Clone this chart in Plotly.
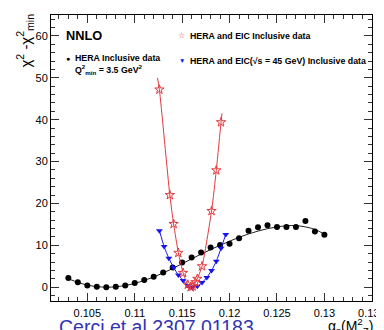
import plotly.graph_objects as go

# ---- data ----
hera_x = [0.103, 0.104, 0.105, 0.106, 0.107, 0.108, 0.109, 0.110, 0.111, 0.112,
          0.113, 0.114, 0.115, 0.116, 0.117, 0.118, 0.119, 0.120, 0.121, 0.122,
          0.123, 0.124, 0.125, 0.126, 0.127, 0.128, 0.129, 0.130]
hera_y = [2.2, 1.2, 0.4, 0.1, 0.0, 0.1, 0.4, 1.0, 1.7, 2.5,
          3.5, 4.7, 5.9, 7.1, 8.3, 9.5, 10.1, 10.4, 11.7, 13.5,
          14.3, 14.8, 14.4, 14.4, 14.4, 15.8, 13.3, 12.5]
hera_fit_x = [0.103, 0.105, 0.107, 0.109, 0.111, 0.113, 0.115, 0.117, 0.119,
              0.121, 0.123, 0.125, 0.127, 0.129, 0.130]
hera_fit_y = [2.0, 0.5, 0.0, 0.4, 1.6, 3.4, 5.6, 7.9, 10.0,
              11.9, 13.4, 14.4, 14.7, 13.8, 12.6]

eic_x = [0.1126, 0.1137, 0.1141, 0.1146, 0.1151, 0.1156, 0.1159, 0.1161,
         0.1164, 0.1166, 0.1171, 0.1181, 0.1186, 0.1191]
eic_y = [47.2, 22.0, 15.1, 8.2, 3.4, 0.6, 0.0, 0.2,
         1.2, 2.0, 5.0, 18.2, 27.9, 39.4]
eic_fit_x = [0.1124, 0.1126, 0.1137, 0.1141, 0.1146, 0.1151, 0.1156, 0.1160,
             0.1164, 0.1166, 0.1171, 0.1181, 0.1186, 0.1191, 0.1192]
eic_fit_y = [50.0, 47.2, 22.0, 15.1, 8.2, 3.4, 0.6, 0.0,
             1.2, 2.0, 5.0, 18.2, 27.9, 39.4, 41.5]

eic45_x = [0.1126, 0.1131, 0.1136, 0.1141, 0.1146, 0.1151, 0.1156, 0.1159,
           0.1161, 0.1166, 0.1171, 0.1176, 0.1181, 0.1186, 0.1191, 0.1196]
eic45_y = [13.5, 9.7, 6.9, 4.7, 2.9, 1.6, 0.4, 0.0,
           0.0, 0.2, 1.1, 2.3, 4.0, 6.2, 9.3, 12.6]

x_tickvals = [0.105, 0.11, 0.115, 0.12, 0.125, 0.13, 0.135]
x_ticktext = ["0.105", "0.11", "0.115", "0.12", "0.125", "0.13", "0.135"]
y_tickvals = [0, 10, 20, 30, 40, 50, 60]

RED = "#e23a3f"
BLUE = "#1414f0"
FONT = "Liberation Sans, Arial, sans-serif"

fig = go.Figure()
fig.add_trace(go.Scatter(x=hera_fit_x, y=hera_fit_y, mode="lines",
                         line=dict(color="#222222", width=1, shape="spline", smoothing=1.0),
                         hoverinfo="skip"))
fig.add_trace(go.Scatter(x=hera_x, y=hera_y, mode="markers",
                         marker=dict(symbol="circle", size=6, color="black"),
                         name="HERA Inclusive data"))
fig.add_trace(go.Scatter(x=eic45_x, y=eic45_y, mode="lines+markers",
                         line=dict(color=BLUE, width=1, shape="spline", smoothing=0.6),
                         marker=dict(symbol="triangle-down", size=6, color=BLUE),
                         name="HERA and EIC(√s = 45 GeV) Inclusive data"))
fig.add_trace(go.Scatter(x=eic_fit_x, y=eic_fit_y, mode="lines",
                         line=dict(color=RED, width=1, shape="spline", smoothing=0.6),
                         hoverinfo="skip"))
fig.add_trace(go.Scatter(x=eic_x, y=eic_y, mode="markers",
                         marker=dict(symbol="star-open", size=7, color=RED,
                                     line=dict(width=1, color=RED)),
                         name="HERA and EIC Inclusive data"))

axis_common = dict(showline=True, linecolor="black", linewidth=1, mirror="allticks",
                   ticks="inside", ticklen=8, tickwidth=1, tickcolor="#333333",
                   showgrid=False, zeroline=False,
                   tickfont=dict(family=FONT, size=11, color="black"),
                   minor=dict(ticks="inside", ticklen=4, tickwidth=1, tickcolor="#333333",
                              showgrid=False))

fig.update_xaxes(range=[0.10117, 0.13502], tickvals=x_tickvals, ticktext=x_ticktext,
                 minor_dtick=0.001, ticklabelstandoff=2, **axis_common)
fig.update_yaxes(range=[-3.3, 65], tickvals=y_tickvals,
                 minor_dtick=2, **axis_common)

ann = []
# pixel helpers: plot area l=43, r=370, t=6, b=293
def px(xp):
    return (xp - 43) / (370 - 43)
def py(yp):
    return (293 - yp) / (293 - 6)

def txt(x, y, s, size=8.8, bold=True, color="black", xanchor="left"):
    ann.append(dict(x=px(x), y=py(y), xref="paper", yref="paper", xanchor=xanchor,
                    yanchor="middle", text=("<b>%s</b>" % s) if bold else s,
                    showarrow=False, font=dict(size=size, color=color, family=FONT)))

txt(56, 27, "NNLO", size=12.8)
txt(60, 50, "●", size=7, bold=False, xanchor="center")
txt(65, 49, "HERA Inclusive data")
txt(65, 61, "Q<sup>2</sup><sub>min</sub> = 3.5 GeV<sup>2</sup>")
txt(175.5, 27, "☆", size=8, bold=False, color=RED, xanchor="center")
txt(183, 27, "HERA and EIC Inclusive data")
txt(176, 52, "▼", size=6.5, bold=False, color=BLUE, xanchor="center")
txt(183, 52, "HERA and EIC(√s = 45 GeV) Inclusive data")

# axis titles
ann.append(dict(x=px(16), y=py(2), xref="paper", yref="paper", xanchor="center", yanchor="top",
                text="χ<sup>2</sup> -χ<sup>2</sup><sub>min</sub>", textangle=-90, showarrow=False,
                font=dict(size=15, family=FONT, color="black")))
ann.append(dict(x=px(373), y=py(318), xref="paper", yref="paper", xanchor="right", yanchor="middle",
                text="α<sub>s</sub>(M<sup>2</sup><sub>Z</sub>)", showarrow=False,
                font=dict(size=14, family=FONT, color="black")))
# citation
ann.append(dict(x=px(49), y=py(319), xref="paper", yref="paper", xanchor="left", yanchor="middle",
                text="Cerci et al 2307.01183", showarrow=False,
                font=dict(size=19.5, family=FONT, color="#3333b3")))

fig.update_layout(width=384, height=330, margin=dict(l=43, r=14, t=6, b=37),
                  paper_bgcolor="white", plot_bgcolor="white", showlegend=False,
                  annotations=ann)

fig.write_html("out.html")
